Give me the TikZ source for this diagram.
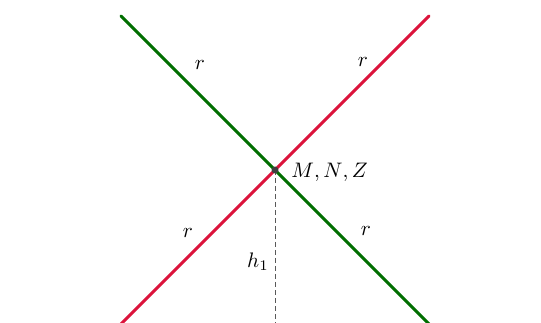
\documentclass[tikz,border=0pt]{standalone}
\definecolor{lgreen}{RGB}{0,110,0}
\definecolor{lred}{RGB}{220,20,60}
\tikzset{
  lbl/.style={scale=2.1, transform shape, inner sep=0pt},
  leg/.style={line width=3pt, line cap=round},
}
\begin{document}
\begin{tikzpicture}[x=1pt,y=-1pt]
\useasboundingbox (0,0) rectangle (541,323);
\clip (0,0) rectangle (541,323);
\coordinate (O) at (275,170);
\coordinate (g1) at (121,16);
\coordinate (g2) at (430,325);
\coordinate (r1) at (429,16);
\coordinate (r2) at (120,325);
\coordinate (b) at (275,330);
\draw[dashed, line width=1pt, gray!70!black, dash pattern=on 5pt off 3pt] (O) -- (b);
\draw[leg, lgreen] (g1) -- (g2);
\draw[leg, lred] (r1) -- (r2);
\fill[black!75] (O) circle (3.5);
\node[lbl] (ra) at (200,65) {$r$};
\node[lbl] (rb) at (363,62) {$r$};
\node[lbl] (rc) at (188,233) {$r$};
\node[lbl] (rd) at (366,231) {$r$};
\node[lbl] (h) at (258,262) {$h_1$};
\node[lbl, anchor=west] (mnz) at (291,172) {$M{,}\,N{,}\,Z$};
\end{tikzpicture}
\end{document}
